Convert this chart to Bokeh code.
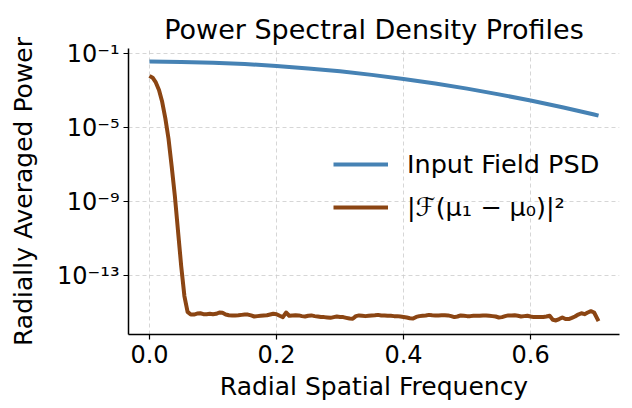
from bokeh.plotting import figure
from bokeh.models import (FixedTicker, CustomJSTickFormatter, PrintfTickFormatter,
                          Range1d, Legend, LegendItem)
from bokeh.embed import file_html
from bokeh.resources import INLINE

# ---- data ----
blue_x = [0.0, 0.05, 0.10, 0.15, 0.20, 0.25, 0.30, 0.35, 0.40, 0.45, 0.50,
          0.55, 0.60, 0.65, 0.70, 0.707]
blue_y = [3.72e-2, 3.59e-2, 3.24e-2, 2.75e-2, 2.19e-2, 1.60e-2, 1.11e-2, 7.16e-3,
          4.32e-3, 2.45e-3, 1.29e-3, 6.31e-4, 2.95e-4, 1.26e-4, 5.13e-5, 4.47e-5]

brown_x = [0.000, 0.005, 0.010, 0.015, 0.020, 0.025, 0.030, 0.035, 0.040, 0.045,
           0.050, 0.055, 0.060, 0.065, 0.070, 0.075, 0.080, 0.085, 0.090, 0.095,
           0.100, 0.105, 0.110, 0.115, 0.120, 0.125, 0.130, 0.135, 0.140, 0.145,
           0.150, 0.155, 0.160, 0.165, 0.170, 0.175, 0.180, 0.185, 0.190, 0.195,
           0.200, 0.205, 0.210, 0.215, 0.220, 0.225, 0.230, 0.235, 0.240, 0.245,
           0.250, 0.255, 0.260, 0.265, 0.270, 0.275, 0.280, 0.285, 0.290, 0.295,
           0.300, 0.305, 0.310, 0.315, 0.320, 0.325, 0.330, 0.335, 0.340, 0.345,
           0.350, 0.355, 0.360, 0.365, 0.370, 0.375, 0.380, 0.385, 0.390, 0.395,
           0.400, 0.405, 0.410, 0.415, 0.420, 0.425, 0.430, 0.435, 0.440, 0.445,
           0.450, 0.455, 0.460, 0.465, 0.470, 0.475, 0.480, 0.485, 0.490, 0.495,
           0.500, 0.505, 0.510, 0.515, 0.520, 0.525, 0.530, 0.535, 0.540, 0.545,
           0.550, 0.555, 0.560, 0.565, 0.570, 0.575, 0.580, 0.585, 0.590, 0.595,
           0.600, 0.605, 0.610, 0.615, 0.620, 0.625, 0.630, 0.635, 0.640, 0.645,
           0.650, 0.655, 0.660, 0.665, 0.670, 0.675, 0.680, 0.685, 0.690, 0.695,
           0.700, 0.707]
brown_y = [6.3e-3, 5.0e-3, 2.8e-3, 1.1e-3, 2.5e-4, 3.2e-5, 2.5e-6, 7.9e-8, 2.0e-9, 2.5e-11,
           3.2e-13, 7.9e-15, 1.1e-15, 7.9e-16, 7.9e-16, 8.9e-16, 9.3e-16, 8.3e-16, 8.3e-16, 8.7e-16,
           8.3e-16, 8.7e-16, 1.02e-15, 9.8e-16, 7.9e-16, 7.2e-16, 7.1e-16, 7.1e-16, 7.2e-16, 7.6e-16,
           7.9e-16, 7.9e-16, 7.1e-16, 6.2e-16, 6.5e-16, 6.8e-16, 7.1e-16, 7.2e-16, 7.9e-16, 8.7e-16,
           8.3e-16, 6.8e-16, 5.75e-16, 1.02e-15, 6.8e-16, 7.1e-16, 7.2e-16, 7.1e-16, 6.5e-16, 6.2e-16,
           6.8e-16, 7.1e-16, 6.5e-16, 6.2e-16, 5.9e-16, 5.75e-16, 5.5e-16, 5.25e-16, 5.75e-16, 6.2e-16,
           5.9e-16, 5.75e-16, 5.25e-16, 4.8e-16, 4.7e-16, 6.5e-16, 7.1e-16, 6.8e-16, 6.5e-16, 6.8e-16,
           7.1e-16, 7.2e-16, 7.6e-16, 7.1e-16, 7.1e-16, 6.8e-16, 6.8e-16, 6.5e-16, 6.5e-16, 6.2e-16,
           5.9e-16, 5.5e-16, 5.0e-16, 4.8e-16, 5.9e-16, 6.5e-16, 6.8e-16, 7.1e-16, 7.6e-16, 7.2e-16,
           7.1e-16, 7.1e-16, 7.2e-16, 7.2e-16, 7.1e-16, 6.5e-16, 5.75e-16, 6.2e-16, 7.1e-16, 6.8e-16,
           6.5e-16, 6.5e-16, 6.8e-16, 6.8e-16, 6.8e-16, 7.1e-16, 7.1e-16, 6.8e-16, 6.5e-16, 6.2e-16,
           5.5e-16, 5.75e-16, 6.5e-16, 7.1e-16, 7.1e-16, 7.2e-16, 6.8e-16, 6.2e-16, 6.5e-16, 6.8e-16,
           6.2e-16, 5.75e-16, 5.75e-16, 5.75e-16, 5.9e-16, 6.2e-16, 6.8e-16, 4.1e-16, 3.8e-16, 4.5e-16,
           5.5e-16, 4.5e-16, 4.5e-16, 5.25e-16, 6.2e-16, 7.9e-16, 9.3e-16, 8.3e-16, 1.02e-15, 1.2e-15,
           1.02e-15, 3.5e-16]

x_ticks = [0.0, 0.2, 0.4, 0.6]
y_ticks = [1e-13, 1e-9, 1e-5, 1e-1]

TITLE = "Power Spectral Density Profiles"
X_LABEL = "Radial Spatial Frequency"
Y_LABEL = "Radially Averaged Power"
LABEL_BLUE = "Input Field PSD"
LABEL_BROWN = "|ℱ(μ₁ − μ₀)|²"

FONT = "DejaVu Sans"

p = figure(width=628, height=406, y_axis_type="log",
           x_range=Range1d(-0.033, 0.740), y_range=Range1d(10**-16.18, 10**-0.72),
           output_backend="svg", toolbar_location=None,
           min_border_left=128, min_border_right=9, min_border_top=48, min_border_bottom=72)

p.title.text = TITLE
p.title.text_font = FONT
p.title.text_font_size = "27px"
p.title.text_font_style = "normal"
p.title.text_color = "black"
p.title.align = "center"
p.title.vertical_align = "top"
p.title.standoff = 4

p.outline_line_color = None
p.background_fill_color = "white"
p.border_fill_color = "white"

for ax in (p.xaxis[0], p.yaxis[0]):
    ax.axis_line_color = "black"
    ax.axis_line_width = 1.5
    ax.major_tick_line_color = "black"
    ax.major_tick_line_width = 1.2
    ax.major_tick_out = 5
    ax.major_tick_in = 0
    ax.minor_tick_line_color = None
    ax.major_label_text_font = FONT
    ax.major_label_text_font_size = "24px"
    ax.major_label_text_color = "black"
    ax.axis_label_text_font = FONT
    ax.axis_label_text_font_size = "25px"
    ax.axis_label_text_font_style = "normal"
    ax.axis_label_text_color = "black"

p.xaxis.ticker = FixedTicker(ticks=x_ticks, minor_ticks=[])
p.xaxis.formatter = PrintfTickFormatter(format="%.1f")
p.xaxis.axis_label = X_LABEL
p.xaxis.major_label_standoff = 5
p.xaxis.axis_label_standoff = 6

p.yaxis.ticker = FixedTicker(ticks=y_ticks, minor_ticks=[])
p.yaxis.formatter = CustomJSTickFormatter(code="""
const sup = {'-':'\u207b','0':'\u2070','1':'\u00b9','2':'\u00b2','3':'\u00b3','4':'\u2074',
             '5':'\u2075','6':'\u2076','7':'\u2077','8':'\u2078','9':'\u2079'};
const e = Math.round(Math.log10(tick));
return '10' + String(e).split('').map(c => sup[c]).join('');
""")
p.yaxis.axis_label = Y_LABEL
p.yaxis.major_label_standoff = 4
p.yaxis.axis_label_standoff = 16

p.grid.grid_line_color = "#cccccc"
p.grid.grid_line_dash = "4 3"
p.grid.grid_line_width = 0.8
p.xgrid.ticker = FixedTicker(ticks=x_ticks, minor_ticks=[])
p.ygrid.ticker = FixedTicker(ticks=y_ticks, minor_ticks=[])

r1 = p.line(blue_x, blue_y, line_color="#4682B4", line_width=4, line_join="round")
r2 = p.line(brown_x, brown_y, line_color="#8B4513", line_width=4, line_join="round")

legend = Legend(items=[LegendItem(label=LABEL_BLUE, renderers=[r1]),
                       LegendItem(label=LABEL_BROWN, renderers=[r2])],
                location=(205, 112), border_line_color=None, background_fill_alpha=0,
                label_text_font=FONT, label_text_font_size="25.5px", label_text_color="black",
                glyph_width=55, glyph_height=30, label_standoff=19, spacing=13,
                padding=0, margin=0)
p.add_layout(legend, "center")

open("out.html", "w").write(file_html(p, INLINE))
